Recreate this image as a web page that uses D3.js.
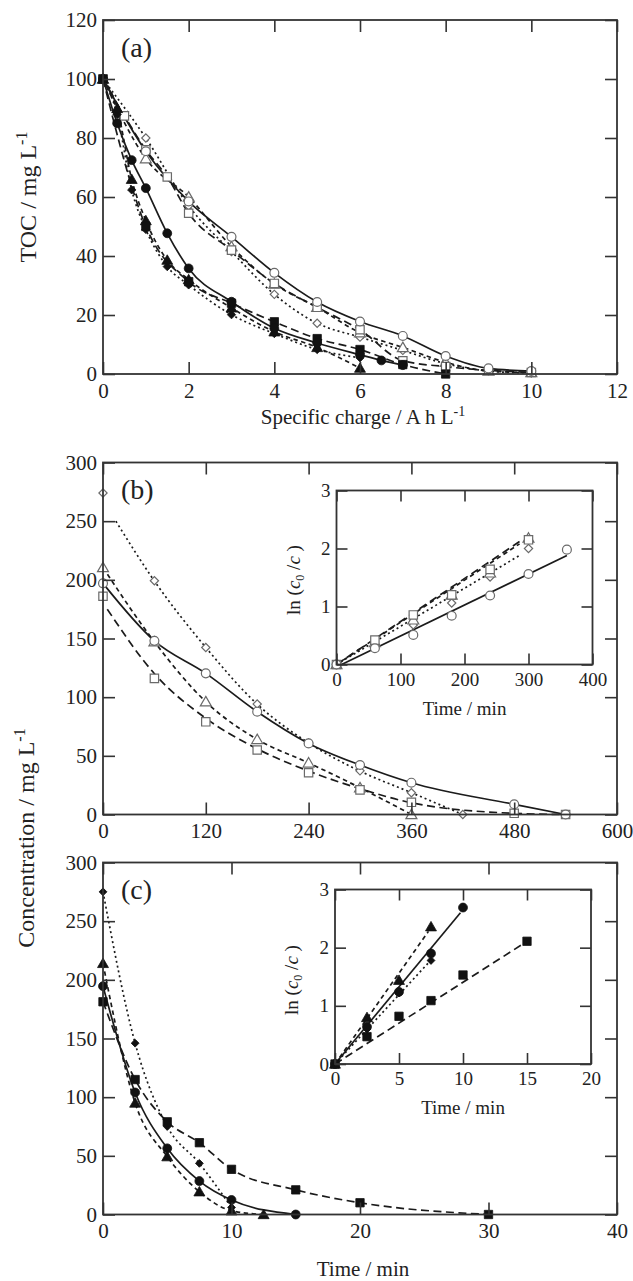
<!DOCTYPE html>
<html><head><meta charset="utf-8">
<script src="https://cdn.jsdelivr.net/npm/d3@7"></script>
<style>
body{margin:0;background:#fff}
text{font-family:"Liberation Serif","Times New Roman",serif;fill:#222}
</style>
</head><body>
<svg id="chart" width="633" height="1281"></svg>
<script>
// ---------------- DATA ----------------
// Panel (a): TOC vs specific charge
const aTicksX = [0,2,4,6,8,10,12];
const aTicksY = [0,20,40,60,80,100,120];
const aX_openCircle = [0,1,2,3,4,5,6,7,8,9,10];
const aY_openCircle = [100,75.5,58.5,46.5,34.3,24.4,17.8,12.9,6.1,1.9,1.0];
const aX_openSquare = [0,0.5,1,1.5,2,3,4,5,6,7,8,10];
const aY_openSquare = [100,87.5,76,66.8,54.5,42,30.7,22.6,15,4.5,2.5,0.5];
const aX_openTriangle = [0,1,2,3,4,5,6,7,8,9,10];
const aY_openTriangle = [100,73,60,43.2,30.5,22.6,14,9,4,1,0.5];
const aX_openDiamond = [0,1,2,3,4,5,6,7,8,9,10];
const aY_openDiamond = [100,80,57,41.5,27,17.2,12.5,8,3.5,1,0.3];
const aX_filledCircle = [0,0.33,0.67,1,1.5,2,3,4,5,6,6.5,7];
const aY_filledCircle = [100,85,72.5,63,47.7,35.8,24.5,15.5,10.5,6.5,4.6,3];
const aX_filledSquare = [0,1,2,3,4,5,6,7,8];
const aY_filledSquare = [100,50,31.3,24,17.7,12,8.3,3.2,0];
const aX_filledTriangle = [0,0.33,0.67,1,1.5,2,3,4,5,6];
const aY_filledTriangle = [100,90,66,52,38.6,32,22.4,14.3,9,2];
const aX_filledDiamond = [0,0.33,0.67,1,1.5,2,3,4,5,6];
const aY_filledDiamond = [100,88,62.4,49,36.4,30.2,20.1,13.7,8.3,5.5];

// Panel (b): concentration vs time (open symbols)
const bTicksX = [0,120,240,360,480,600];
const bTicksY = [0,50,100,150,200,250,300];
const bX_circle = [0,60,120,180,240,300,360,480,540];
const bY_circle = [197,148,120.3,87.6,60.6,42.2,27.1,8.7,0];
const bX_triangle = [0,60,120,180,240,300,360];
const bY_triangle = [210.5,147.2,96.1,64,44,22.8,0];
const bX_square = [0,60,120,180,240,300,360,480,540];
const bY_square = [186,116,79,55,35.6,21,10.4,1,0];
const bX_diamond = [0,60,120,180,240,300,360,420];
const bY_diamond = [274,199.2,142.4,94.1,61,37.2,18.6,0];
// fitted curves (where they depart from the first point)
const bFitX_square = [5,60,120,180,240,300,360,480,540];
const bFitY_square = [175,120,82,56,37,22,10,1,0];
const bFitX_diamond = [15,60,120,180,240,300,360,420];
const bFitY_diamond = [250,199,142.4,94,61,37,18.6,0];

// Inset (b): ln(c0/c) vs time
const biTicksX = [0,100,200,300,400];
const biTicksY = [0,1,2,3];
const biX_circle = [0,60,120,180,240,300,360];
const biY_circle = [0,0.28,0.51,0.84,1.19,1.56,1.98];
const biX_triangle = [0,60,120,180,240,300];
const biY_triangle = [0,0.38,0.77,1.2,1.58,2.18];
const biX_square = [0,60,120,180,240,300];
const biY_square = [0,0.42,0.855,1.2,1.64,2.15];
const biX_diamond = [0,60,120,180,240,300];
const biY_diamond = [0,0.35,0.68,1.06,1.51,2.0];
// fitted straight lines: [x0, y0, x1, y1]
const biFit_circle = [8,0,360,1.88];
const biFit_triangle = [0,0,286,2.08];
const biFit_square = [0,0,286,2.12];
const biFit_diamond = [0,0,286,1.88];

// Panel (c): concentration vs time (filled symbols)
const cTicksX = [0,10,20,30,40];
const cTicksY = [0,50,100,150,200,250,300];
const cX_circle = [0,2.5,5,7.5,10,15];
const cY_circle = [194.6,104,56.4,28.5,12.4,0];
const cX_triangle = [0,2.5,5,7.5,10,12.5];
const cY_triangle = [214,95,49.3,19.4,3.2,0];
const cX_square = [0,2.5,5,7.5,10,15,20,30];
const cY_square = [181.3,115,79,61.2,38.5,21,10,0];
const cX_diamond = [0,2.5,5,7.5,10];
const cY_diamond = [275,146,75,43.6,6];

// Inset (c)
const ciTicksX = [0,5,10,15,20];
const ciTicksY = [0,1,2,3];
const ciX_circle = [0,2.5,5,7.5,10];
const ciY_circle = [0,0.64,1.24,1.9,2.69];
const ciX_triangle = [0,2.5,5,7.5];
const ciY_triangle = [0,0.8,1.44,2.36];
const ciX_square = [0,2.5,5,7.5,10,15];
const ciY_square = [0,0.47,0.82,1.09,1.53,2.11];
const ciX_diamond = [0,2.5,5,7.5];
const ciY_diamond = [0,0.6,1.22,1.78];
const ciFit_circle = [0,0,9.8,2.6];
const ciFit_triangle = [0,0,7.3,2.28];
const ciFit_square = [0,0,14.8,2.08];
const ciFit_diamond = [0,0,7.3,1.74];

// ---------------- DRAWING ----------------
const zip = (xs, ys) => xs.map((v,i)=>[v, ys[i]]);
const svg = d3.select("#chart");
svg.append("rect").attr("width",633).attr("height",1281).attr("fill","#fff");

const AX = "#333";
const LINE = "#1b1b1b";
const OPEN = "#6a6a6a";
const DASH = {solid:null, long:"8,4.5", short:"4.5,3.5", dot:"2,3"};

function drawAxes(g, x, y, xt, yt, tickLen, fs, xPad, yPad, fillBg) {
  const [x0,x1] = x.range(), [y0,y1] = y.range();
  if (fillBg) g.append("rect").attr("x",x0).attr("y",y1).attr("width",x1-x0).attr("height",y0-y1).attr("fill","#fff");
  const style = sel => {
    sel.select(".domain").remove();
    sel.selectAll(".tick line").attr("stroke",AX).attr("stroke-width",1.6);
    sel.selectAll(".tick text").attr("font-size",fs).attr("fill","#222")
      .attr("font-family",'"Liberation Serif","Times New Roman",serif');
  };
  g.append("g").attr("transform",`translate(0,${y0})`)
    .call(d3.axisBottom(x).tickValues(xt).tickSize(-tickLen).tickPadding(xPad).tickFormat(d3.format("d"))).call(style);
  g.append("g").attr("transform",`translate(0,${y1})`)
    .call(d3.axisTop(x).tickValues(xt).tickSize(-tickLen).tickFormat("")).call(style);
  g.append("g").attr("transform",`translate(${x0},0)`)
    .call(d3.axisLeft(y).tickValues(yt).tickSize(-tickLen).tickPadding(yPad).tickFormat(d3.format("d"))).call(style);
  g.append("g").attr("transform",`translate(${x1},0)`)
    .call(d3.axisRight(y).tickValues(yt).tickSize(-tickLen).tickFormat("")).call(style);
  g.append("rect").attr("x",x0).attr("y",y1).attr("width",x1-x0).attr("height",y0-y1)
    .attr("fill","none").attr("stroke",AX).attr("stroke-width",1.8);
}

function drawLine(g, x, y, pts, dash, curve) {
  g.append("path").datum(pts)
    .attr("d", d3.line().x(d=>x(d[0])).y(d=>y(d[1])).curve(curve || d3.curveMonotoneX))
    .attr("fill","none").attr("stroke",LINE).attr("stroke-width",1.7)
    .attr("stroke-dasharray", dash);
}

const SYM = {circle:d3.symbolCircle, square:d3.symbolSquare, triangle:d3.symbolTriangle, diamond:d3.symbolSquare};
const AREA = {circle:62, square:70, triangle:52, diamond:34};
function drawMarkers(g, x, y, pts, type, filled, scale) {
  const s = scale || 1;
  g.selectAll(null).data(pts).enter().append("path")
    .attr("d", d3.symbol(SYM[type], AREA[type]*s)())
    .attr("transform", d => `translate(${x(d[0])},${y(d[1])})` + (type==="diamond" ? " rotate(45)" : "") + (type==="triangle" ? " translate(0,1)" : ""))
    .attr("fill", filled ? "#111" : "#fff")
    .attr("stroke", filled ? "#111" : OPEN)
    .attr("stroke-width", filled ? 0.8 : 1.2);
}

function richLabel(g, tx, ty, rot, fs, parts, anchor) {
  const t = g.append("text").attr("transform",`translate(${tx},${ty}) rotate(${rot})`)
    .attr("text-anchor", anchor || "middle").attr("font-size",fs);
  parts.forEach(p => {
    const ts = t.append("tspan").text(p.t);
    if (p.it) ts.attr("font-style","italic");
    if (p.fs) ts.attr("font-size", p.fs);
    if (p.dy) ts.attr("dy", p.dy);
  });
  return t;
}

const L = 103, R = 617;

// ===== Panel (a) =====
{
  const g = svg.append("g");
  const x = d3.scaleLinear().domain([0,12]).range([L,R]);
  const y = d3.scaleLinear().domain([0,120]).range([374,20]);
  const lines = [
    [aX_openSquare, aY_openSquare, DASH.long],
    [aX_openTriangle, aY_openTriangle, DASH.short],
    [aX_openDiamond, aY_openDiamond, DASH.dot],
    [aX_filledSquare, aY_filledSquare, DASH.long],
    [aX_filledTriangle, aY_filledTriangle, DASH.short],
    [aX_filledDiamond, aY_filledDiamond, DASH.dot],
    [aX_openCircle, aY_openCircle, DASH.solid],
    [aX_filledCircle, aY_filledCircle, DASH.solid]
  ];
  lines.forEach(([xs,ys,d]) => drawLine(g, x, y, zip(xs,ys), d));
  drawMarkers(g,x,y,zip(aX_openDiamond,aY_openDiamond),"diamond",false);
  drawMarkers(g,x,y,zip(aX_openTriangle,aY_openTriangle),"triangle",false);
  drawMarkers(g,x,y,zip(aX_openSquare,aY_openSquare),"square",false);
  drawMarkers(g,x,y,zip(aX_openCircle,aY_openCircle),"circle",false);
  drawMarkers(g,x,y,zip(aX_filledDiamond,aY_filledDiamond),"diamond",true);
  drawMarkers(g,x,y,zip(aX_filledTriangle,aY_filledTriangle),"triangle",true);
  drawMarkers(g,x,y,zip(aX_filledSquare,aY_filledSquare),"square",true);
  drawMarkers(g,x,y,zip(aX_filledCircle,aY_filledCircle),"circle",true);
  drawAxes(g, x, y, aTicksX, aTicksY, 12, 21, 9, 6, false);
  g.append("text").attr("x",121).attr("y",57).attr("font-size",28).text("(a)");
  richLabel(g, 363, 424, 0, 21, [{t:"Specific charge / A h L"},{t:"-1",fs:14,dy:-8}]);
  richLabel(g, 36, 197, -90, 24, [{t:"TOC / mg L"},{t:"-1",fs:16,dy:-9}]);
}

// ===== Panel (b) =====
{
  const g = svg.append("g");
  const x = d3.scaleLinear().domain([0,600]).range([L,R]);
  const y = d3.scaleLinear().domain([0,300]).range([814.5,462.5]);
  drawLine(g,x,y,zip(bFitX_diamond,bFitY_diamond),DASH.dot);
  drawLine(g,x,y,zip(bX_triangle,bY_triangle),DASH.short);
  drawLine(g,x,y,zip(bFitX_square,bFitY_square),DASH.long);
  drawLine(g,x,y,zip(bX_circle,bY_circle),DASH.solid);
  drawMarkers(g,x,y,zip(bX_diamond,bY_diamond),"diamond",false);
  drawMarkers(g,x,y,zip(bX_triangle,bY_triangle),"triangle",false);
  drawMarkers(g,x,y,zip(bX_square,bY_square),"square",false);
  drawMarkers(g,x,y,zip(bX_circle,bY_circle),"circle",false);
  drawAxes(g, x, y, bTicksX, bTicksY, 12, 21, 9, 6, false);
  g.append("text").attr("x",121).attr("y",499).attr("font-size",28).text("(b)");

  // inset
  const gi = svg.append("g");
  const xi = d3.scaleLinear().domain([0,400]).range([336.5,592.5]);
  const yi = d3.scaleLinear().domain([0,3]).range([664.5,490.5]);
  gi.append("rect").attr("x",336.5).attr("y",490.5).attr("width",256).attr("height",174).attr("fill","#fff");
  const fl = (f,d) => drawLine(gi,xi,yi,[[f[0],f[1]],[f[2],f[3]]],d,d3.curveLinear);
  fl(biFit_diamond, DASH.dot);
  fl(biFit_triangle, DASH.short);
  fl(biFit_square, DASH.long);
  fl(biFit_circle, DASH.solid);
  drawMarkers(gi,xi,yi,zip(biX_diamond,biY_diamond),"diamond",false);
  drawMarkers(gi,xi,yi,zip(biX_triangle,biY_triangle),"triangle",false);
  drawMarkers(gi,xi,yi,zip(biX_square,biY_square),"square",false);
  drawMarkers(gi,xi,yi,zip(biX_circle,biY_circle),"circle",false);
  drawAxes(gi, xi, yi, biTicksX, biTicksY, 11, 19, 8, 6, false);
  richLabel(gi, 464.5, 715, 0, 19, [{t:"Time / min"}]);
  richLabel(gi, 300, 580, -90, 19, [{t:"ln ("},{t:"c",it:true},{t:"0",fs:12,dy:4},{t:" /",dy:-4},{t:"c",it:true},{t:" )"}]);
}

// ===== Panel (c) =====
{
  const g = svg.append("g");
  const x = d3.scaleLinear().domain([0,40]).range([L,R]);
  const y = d3.scaleLinear().domain([0,300]).range([1214.5,862.5]);
  drawLine(g,x,y,zip(cX_diamond,cY_diamond),DASH.dot);
  drawLine(g,x,y,zip(cX_triangle,cY_triangle),DASH.short);
  drawLine(g,x,y,zip(cX_square,cY_square),DASH.long);
  drawLine(g,x,y,zip(cX_circle,cY_circle),DASH.solid);
  drawMarkers(g,x,y,zip(cX_diamond,cY_diamond),"diamond",true,0.9);
  drawMarkers(g,x,y,zip(cX_triangle,cY_triangle),"triangle",true);
  drawMarkers(g,x,y,zip(cX_square,cY_square),"square",true);
  drawMarkers(g,x,y,zip(cX_circle,cY_circle),"circle",true);
  drawAxes(g, x, y, cTicksX, cTicksY, 12, 21, 9, 6, false);
  g.append("text").attr("x",121).attr("y",899).attr("font-size",28).text("(c)");
  richLabel(g, 363, 1276, 0, 21, [{t:"Time / min"}]);

  const gi = svg.append("g");
  const xi = d3.scaleLinear().domain([0,20]).range([335,591]);
  const yi = d3.scaleLinear().domain([0,3]).range([1064,889.5]);
  gi.append("rect").attr("x",335).attr("y",889.5).attr("width",256).attr("height",174.5).attr("fill","#fff");
  const fl = (f,d) => drawLine(gi,xi,yi,[[f[0],f[1]],[f[2],f[3]]],d,d3.curveLinear);
  fl(ciFit_diamond, DASH.dot);
  fl(ciFit_triangle, DASH.short);
  fl(ciFit_square, DASH.long);
  fl(ciFit_circle, DASH.solid);
  drawMarkers(gi,xi,yi,zip(ciX_diamond,ciY_diamond),"diamond",true,0.9);
  drawMarkers(gi,xi,yi,zip(ciX_triangle,ciY_triangle),"triangle",true);
  drawMarkers(gi,xi,yi,zip(ciX_square,ciY_square),"square",true);
  drawMarkers(gi,xi,yi,zip(ciX_circle,ciY_circle),"circle",true);
  drawAxes(gi, xi, yi, ciTicksX, ciTicksY, 11, 19, 8, 6, false);
  richLabel(gi, 463, 1114, 0, 19, [{t:"Time / min"}]);
  richLabel(gi, 298, 980, -90, 19, [{t:"ln ("},{t:"c",it:true},{t:"0",fs:12,dy:4},{t:" /",dy:-4},{t:"c",it:true},{t:" )"}]);
}

// shared y label for (b) and (c)
richLabel(svg, 34, 838, -90, 24, [{t:"Concentration / mg L"},{t:"-1",fs:16,dy:-9}]);
</script>
</body></html>
